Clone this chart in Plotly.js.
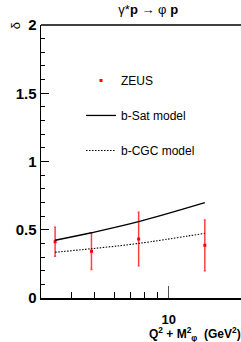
<!DOCTYPE html>
<html><head><meta charset="utf-8">
<script src="https://cdn.plot.ly/plotly-3.0.1.min.js"></script>
<style>body{margin:0;padding:0;background:#fff}#c{width:241px;height:342px}</style>
</head><body><div id="c"></div>
<script>
// data
const zeusX = [3.44, 4.84, 7.54, 14.04];
const zeusY = [0.412, 0.342, 0.432, 0.386];
const zeusErr = [0.106, 0.134, 0.196, 0.186];
const modelX = [3.44, 4.84, 7.54, 14.04];
const bSatY = [0.423, 0.478, 0.559, 0.698];
const bCgcY = [0.335, 0.361, 0.400, 0.474];
const minorTicks = [3, 4, 5, 6, 7, 8, 9, 20];
const majorTicks = [10];
const yTicks = [0, 0.5, 1, 1.5, 2];
const yTickText = ['<b>0</b>', '<b>0.5</b>', '<b>1</b>', '<b>1.5</b>', '<b>2</b>'];

const F = 'Liberation Sans, Arial, sans-serif';
const traces = [
  {x: zeusX, y: zeusY, type: 'scatter', mode: 'markers', name: 'ZEUS',
   marker: {color: '#ff0000', size: 3, symbol: 'square'},
   error_y: {type: 'data', array: zeusErr, visible: true, color: '#ff4040', thickness: 1.5, width: 1},
   legendgroup: 'a'},
  {x: modelX, y: bSatY, type: 'scatter', mode: 'lines', name: 'b-Sat model',
   line: {color: '#000', width: 1.3, shape: 'spline'}, legendgroup: 'b'},
  {x: modelX, y: bCgcY, type: 'scatter', mode: 'lines', name: 'b-CGC model',
   line: {color: '#000', width: 1.1, dash: '1.5px,1.5px', shape: 'spline'}, legendgroup: 'c'}
];

const layout = {
  width: 241, height: 342,
  margin: {l: 41, r: 0, t: 25, b: 44},
  paper_bgcolor: '#fff', plot_bgcolor: '#fff',
  showlegend: true,
  legend: {x: 0.2, y: 0.85, xanchor: 'left', yanchor: 'top', bgcolor: 'rgba(0,0,0,0)',
           font: {family: F, size: 12, color: '#000'},
           tracegroupgap: 16, itemwidth: 30},
  title: {text: 'γ*<b>p</b> → φ <b>p</b>', x: 0.615, xanchor: 'center', y: 0.985, yanchor: 'top',
          font: {family: F, size: 13, color: '#000'}},
  xaxis: {type: 'log', range: [0.479, 1.295], showgrid: false, zeroline: false,
          showline: true, linecolor: '#000', linewidth: 1.5,
          ticks: 'inside', ticklen: 12, tickwidth: 1, tickcolor: '#555',
          tickvals: majorTicks, ticktext: ['<b>10</b>'], ticklabelstandoff: 9,
          tickfont: {family: F, size: 13, color: '#000'},
          minor: {tickvals: minorTicks, ticks: 'inside', ticklen: 6, tickwidth: 1, tickcolor: '#000', showgrid: false},
          title: {text: ''}},
  yaxis: {range: [0, 2], showgrid: false, zeroline: false,
          showline: true, linecolor: '#000', linewidth: 1.5,
          ticks: 'inside', ticklen: 8, tickwidth: 1, tickcolor: '#000',
          tickvals: yTicks, ticktext: yTickText,
          tickfont: {family: F, size: 15, color: '#000'},
          minor: {dtick: 0.1, ticks: 'inside', ticklen: 4, tickwidth: 1, tickcolor: '#000', showgrid: false}},
  shapes: [{type: 'line', xref: 'paper', yref: 'paper', x0: 0, x1: 1, y0: 1, y1: 1,
            line: {color: '#000', width: 1.5}}],
  annotations: [
    {text: 'δ', xref: 'paper', yref: 'paper', x: -0.13, y: 0.995, xanchor: 'center', yanchor: 'middle',
     textangle: -90, showarrow: false, font: {family: F, size: 13, color: '#000'}},
    {text: '<b>Q<sup>2</sup> + M<sup>2</sup><sub>φ</sub>  (GeV<sup>2</sup>)</b>', xref: 'paper', yref: 'paper',
     x: 1.01, y: -0.092, xanchor: 'right', yanchor: 'top', showarrow: false,
     font: {family: F, size: 12, color: '#000'}}
  ]
};
Plotly.newPlot('c', traces, layout, {staticPlot: true, displayModeBar: false});
</script></body></html>
